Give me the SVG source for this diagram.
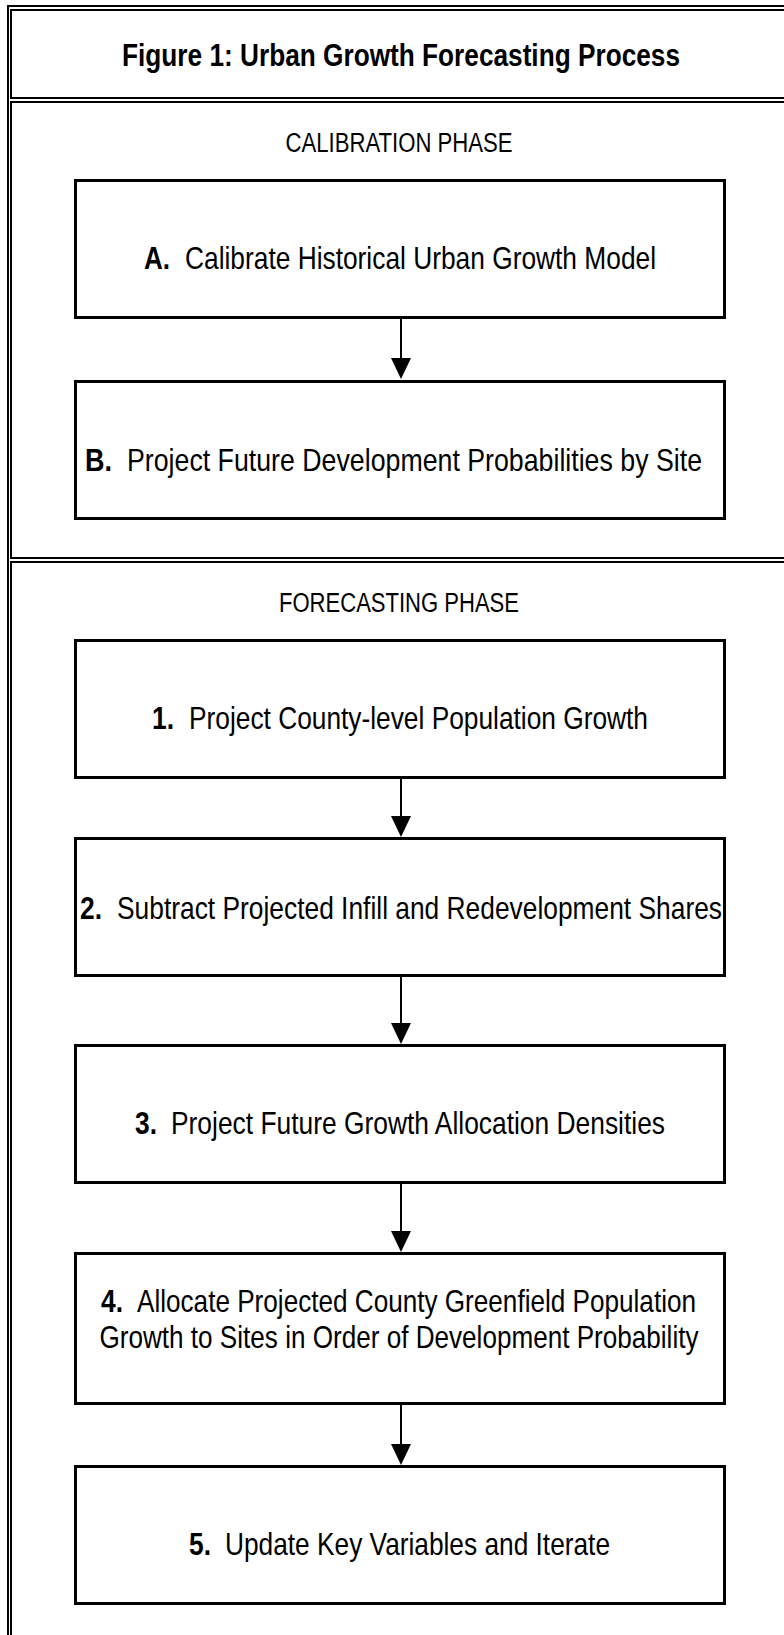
<svg xmlns="http://www.w3.org/2000/svg" width="784" height="1635" viewBox="0 0 784 1635">
<style>
.frame{stroke:#000;stroke-width:2;fill:none}
.box{fill:#fff;stroke:#000;stroke-width:3}
.t{font-family:"Liberation Sans Narrow","Liberation Sans",Arial,sans-serif;font-size:32px;fill:#000}
.ph{font-family:"Liberation Sans Narrow","Liberation Sans",Arial,sans-serif;font-size:27px;fill:#000;text-anchor:middle}
.b{font-weight:bold}
.m{text-anchor:middle}
.conn line{stroke:#000;stroke-width:2}
.conn polygon{fill:#000}
</style>
<rect width="784" height="1635" fill="#fff"/>
<g id="frame">
<line class="frame" x1="8" y1="5" x2="8" y2="1635"/>
<line class="frame" x1="7" y1="6" x2="784" y2="6"/>
<line class="frame" x1="11" y1="9" x2="11" y2="99"/>
<line class="frame" x1="11" y1="101" x2="11" y2="559"/>
<line class="frame" x1="11" y1="561" x2="11" y2="1635"/>
<line class="frame" x1="10" y1="10" x2="784" y2="10"/>
<line class="frame" x1="10" y1="98" x2="784" y2="98"/>
<line class="frame" x1="10" y1="102" x2="784" y2="102"/>
<line class="frame" x1="10" y1="558" x2="784" y2="558"/>
<line class="frame" x1="10" y1="562" x2="784" y2="562"/>
</g>
<g id="title"><text class="t b m" x="401" y="66" textLength="558" lengthAdjust="spacingAndGlyphs">Figure 1: Urban Growth Forecasting Process</text></g>
<g id="calibration-label"><text class="ph" x="399" y="152" textLength="227" lengthAdjust="spacingAndGlyphs">CALIBRATION PHASE</text></g>
<g id="forecasting-label"><text class="ph" x="399" y="612" textLength="240" lengthAdjust="spacingAndGlyphs">FORECASTING PHASE</text></g>
<g id="nodeA"><rect class="box" x="75.5" y="180.5" width="649" height="137"/>
<text class="t b" x="144" y="269" textLength="26" lengthAdjust="spacingAndGlyphs">A.</text>
<text class="t" x="185" y="269" textLength="471" lengthAdjust="spacingAndGlyphs">Calibrate Historical Urban Growth Model</text></g>
<g id="nodeB"><rect class="box" x="75.5" y="381.5" width="649" height="137"/>
<text class="b t" x="85" y="471" textLength="27" lengthAdjust="spacingAndGlyphs">B.</text>
<text class="t" x="127" y="471" textLength="575" lengthAdjust="spacingAndGlyphs">Project Future Development Probabilities by Site</text></g>
<g id="node1"><rect class="box" x="75.5" y="640.5" width="649" height="137"/>
<text class="t b" x="152" y="729" textLength="22" lengthAdjust="spacingAndGlyphs">1.</text>
<text class="t" x="189" y="729" textLength="459" lengthAdjust="spacingAndGlyphs">Project County-level Population Growth</text></g>
<g id="node2"><rect class="box" x="75.5" y="838.5" width="649" height="137"/>
<text class="t b" x="80" y="919" textLength="22" lengthAdjust="spacingAndGlyphs">2.</text>
<text class="t" x="117" y="919" textLength="605" lengthAdjust="spacingAndGlyphs">Subtract Projected Infill and Redevelopment Shares</text></g>
<g id="node3"><rect class="box" x="75.5" y="1045.5" width="649" height="137"/>
<text class="t b" x="135" y="1134" textLength="22" lengthAdjust="spacingAndGlyphs">3.</text>
<text class="t" x="171" y="1134" textLength="494" lengthAdjust="spacingAndGlyphs">Project Future Growth Allocation Densities</text></g>
<g id="node4"><rect class="box" x="75.5" y="1253.5" width="649" height="150"/>
<text class="t b" x="101" y="1312" textLength="22" lengthAdjust="spacingAndGlyphs">4.</text>
<text class="t" x="137" y="1312" textLength="559" lengthAdjust="spacingAndGlyphs">Allocate Projected County Greenfield Population</text>
<text class="t m" x="399" y="1348" textLength="599" lengthAdjust="spacingAndGlyphs">Growth to Sites in Order of Development Probability</text></g>
<g id="node5"><rect class="box" x="75.5" y="1466.5" width="649" height="137"/>
<text class="t b" x="189" y="1555" textLength="22" lengthAdjust="spacingAndGlyphs">5.</text>
<text class="t" x="225" y="1555" textLength="385" lengthAdjust="spacingAndGlyphs">Update Key Variables and Iterate</text></g>
<g id="connectors" class="conn">
<line x1="401" y1="319" x2="401" y2="360"/><polygon points="391,358 411,358 401,379"/>
<line x1="401" y1="779" x2="401" y2="818"/><polygon points="391,816 411,816 401,837"/>
<line x1="401" y1="977" x2="401" y2="1025"/><polygon points="391,1023 411,1023 401,1044"/>
<line x1="401" y1="1184" x2="401" y2="1233"/><polygon points="391,1231 411,1231 401,1252"/>
<line x1="401" y1="1405" x2="401" y2="1446"/><polygon points="391,1444 411,1444 401,1465"/>
</g>
</svg>
